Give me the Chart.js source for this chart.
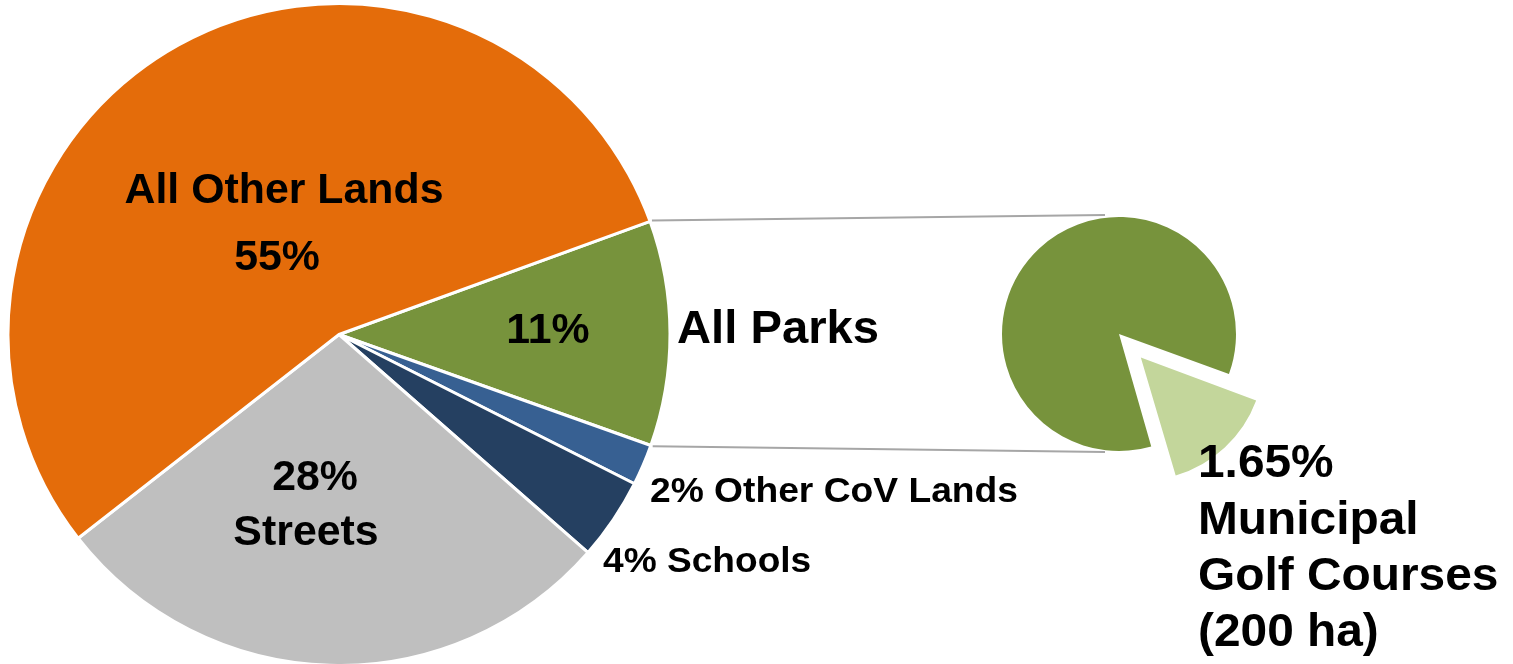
<!DOCTYPE html>
<html>
<head>
<meta charset="utf-8">
<script src="https://cdn.jsdelivr.net/npm/chart.js@4/dist/chart.umd.min.js"></script>
<style>
  html, body { margin: 0; padding: 0; background: #fff; }
  #wrap { position: relative; width: 1513px; height: 664px; overflow: hidden; }
  #mainPie { position: absolute; left: 0; top: 0; z-index: 2; }
  #parksPie { position: absolute; left: 990px; top: 200px; z-index: 1; }
</style>
</head>
<body>
<div id="wrap">
  <canvas id="parksPie" width="290" height="290"></canvas>
  <canvas id="mainPie" width="1513" height="664"></canvas>
</div>
<script>
// main pie: share of city land (%)
const landLabels = ["All Parks", "Other CoV Lands", "Schools", "Streets", "All Other Lands"]
const landValues = [11, 2, 4, 28, 55]
const landColors = ["#77933C", "#376092", "#254061", "#BFBFBF", "#E46C0A"]

// breakdown of the parks slice (% of all land)
const parkLabels = ["Municipal Golf Courses", "Other Parks"]
const parkValues = [1.65, 9.35]
const parkColors = ["#C3D69B", "#77933C"]

const FONT = "'Liberation Sans', Arial, sans-serif"

// text placed on the picture: [text, x, baseline y, size, align, horizontal stretch]
const TEXTS = [
  ["All Other Lands",      284, 203, 42, "center", 1.02],
  ["55%",                  277, 270, 42, "center", 1.02],
  ["11%",                  548, 343, 42, "center", 1.02],
  ["All Parks",            677, 343, 46, "left",   1.026],
  ["28%",                  315, 490, 42, "center", 1.02],
  ["Streets",              306, 545, 42, "center", 1.02],
  ["2% Other CoV Lands",   650, 502, 35, "left",   1.063],
  ["4% Schools",           603, 572, 35, "left",   1.06],
  ["1.65%",               1198, 477, 46, "left",   1.04],
  ["Municipal",           1198, 534, 46, "left",   1.04],
  ["Golf Courses",        1198, 590, 46, "left",   1.04],
  ["(200 ha)",            1198, 646, 46, "left",   1.04],
]

const parksCanvas = document.getElementById("parksPie")
const parksChart = new Chart(parksCanvas, {
  type: "pie",
  data: {
    labels: parkLabels,
    datasets: [{
      data: parkValues,
      backgroundColor: parkColors,
      borderWidth: 0,
      offset: [128, 0],
      radius: 117,
    }],
  },
  options: {
    responsive: false,
    animation: false,
    events: [],
    rotation: 110,
    layout: { padding: { left: 0, top: 0, right: 32, bottom: 22 } },
    plugins: { legend: { display: false }, tooltip: { enabled: false } },
  },
})

const overlay = {
  id: "overlay",
  afterDraw(chart) {
    const ctx = chart.ctx
    const parks = chart.getDatasetMeta(0).data[0]
    const sx = parksCanvas.offsetLeft, sy = parksCanvas.offsetTop
    const small = parksChart.getDatasetMeta(0).data[1]
    const cx = small.x + sx, cy = small.y + sy, r = small.outerRadius

    ctx.save()
    ctx.strokeStyle = "#A6A6A6"
    ctx.lineWidth = 2
    const ends = [
      [parks.startAngle, cy - r - 2],
      [parks.endAngle,   cy + r + 1],
    ]
    ends.forEach(([a, ey]) => {
      ctx.beginPath()
      ctx.moveTo(parks.x + (parks.outerRadius + 2) * Math.cos(a), parks.y + (parks.outerRadius + 2) * Math.sin(a))
      ctx.lineTo(cx - 14, ey)
      ctx.stroke()
    })

    ctx.fillStyle = "#000"
    ctx.textBaseline = "alphabetic"
    TEXTS.forEach(([t, x, y, size, align, stretch]) => {
      ctx.save()
      ctx.translate(x, y)
      ctx.scale(stretch, 1)
      ctx.font = `bold ${size}px ${FONT}`
      ctx.textAlign = align
      ctx.fillText(t, 0, 0)
      ctx.restore()
    })
    ctx.restore()
  },
}

new Chart(document.getElementById("mainPie"), {
  type: "pie",
  data: {
    labels: landLabels,
    datasets: [{
      data: landValues,
      backgroundColor: landColors,
      borderColor: "#FFFFFF",
      borderWidth: 3,
      radius: 331,
    }],
  },
  options: {
    responsive: false,
    animation: false,
    events: [],
    rotation: 70,
    layout: { padding: { left: 0, top: 5, right: 835, bottom: 0 } },
    plugins: { legend: { display: false }, tooltip: { enabled: false } },
  },
  plugins: [overlay],
})
</script>
</body>
</html>
